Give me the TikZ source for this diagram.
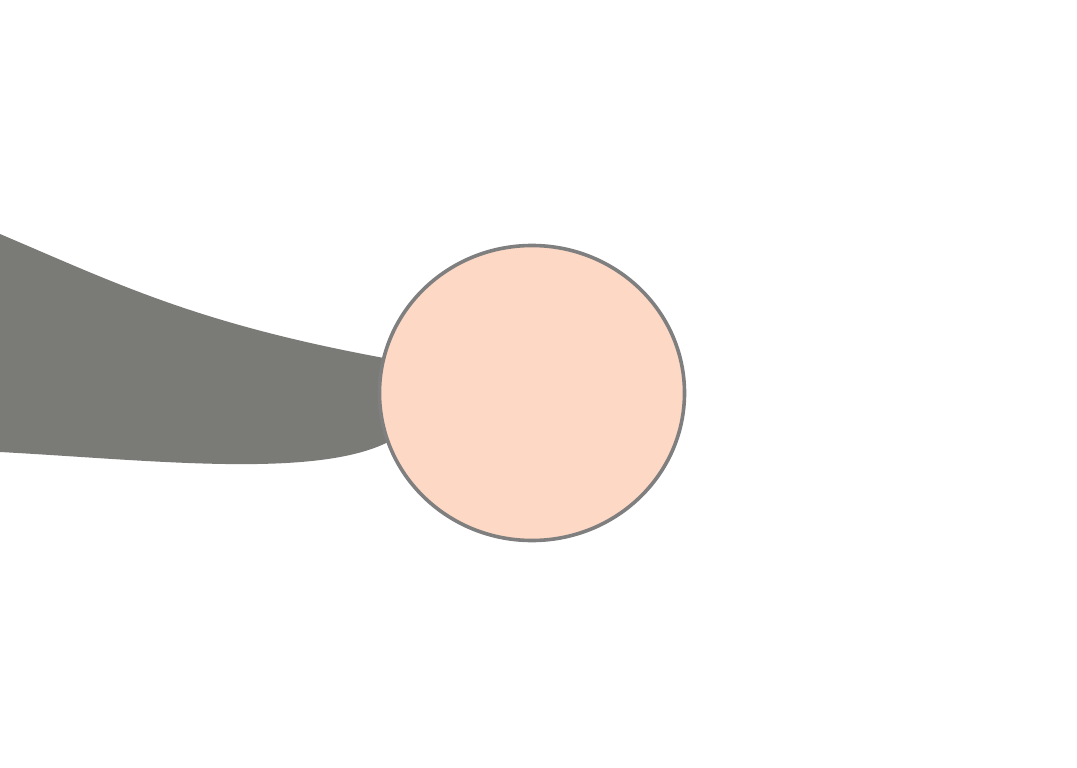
\documentclass[tikz,border=0pt]{standalone}
\usepackage{xcolor}
\definecolor{tailc}{HTML}{7A7B77}
\definecolor{rim}{HTML}{7F7F80}
\definecolor{peach}{HTML}{FDD8C4}
\usetikzlibrary{shapes.geometric}
\tikzset{
  blob/.style={ellipse,draw=rim,line width=3.6pt,fill=peach,minimum width=305pt,minimum height=295pt,inner sep=0pt},
  tail/.style={fill=tailc,draw=none},
}
\begin{document}
\begin{tikzpicture}[x=1pt,y=-1pt]
\useasboundingbox (0,0) rectangle (1077,768);
% tail behind the head
\coordinate (t1) at (0,234);
\coordinate (t2) at (395,360);
\coordinate (t3) at (392,440);
\coordinate (t4) at (0,452);
\fill[tail] (t1) .. controls (120,285) and (200,325) .. (t2)
  -- (t3) .. controls (320,480) and (150,460) .. (t4) -- cycle;
\node[blob] (head) at (532,393) {};
\end{tikzpicture}
\end{document}
